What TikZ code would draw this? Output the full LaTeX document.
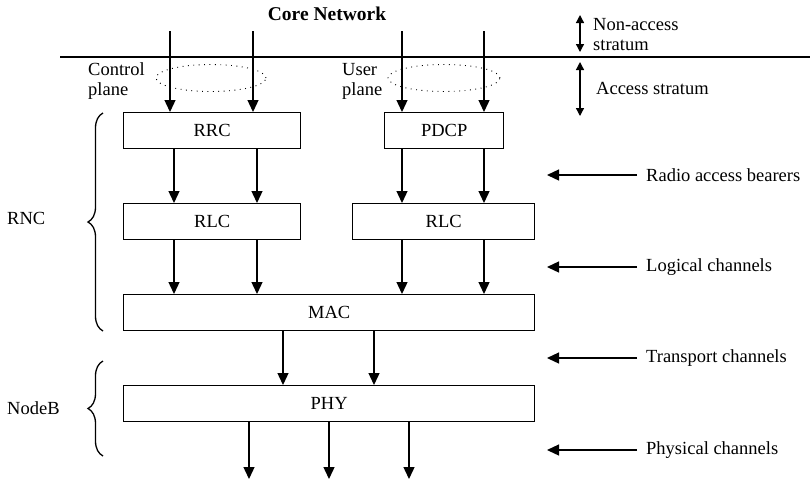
\documentclass[tikz,border=0pt]{standalone}
\usepackage{fontspec}
\setmainfont{Liberation Serif}
\usetikzlibrary{arrows.meta,decorations.pathreplacing,shapes.geometric}
\begin{document}
\begin{tikzpicture}[x=1pt,y=-1pt,
  every node/.style={font=\fontsize{18.5}{20}\selectfont, inner sep=0pt},
  layer/.style={draw, line width=1.3pt, minimum height=36pt, anchor=north west},
  flow/.style={line width=1.3pt, -{Triangle[width=11pt,length=12pt]}},
  both/.style={line width=1.3pt, {Triangle[width=8pt,length=8pt]}-{Triangle[width=8pt,length=8pt]}},
  side/.style={line width=1.3pt, -{Triangle[width=11pt,length=12pt]}},
  plane/.style={draw, line width=0.9pt, dash pattern=on 0.9pt off 4.5pt, ellipse},
  grp/.style={decorate, decoration={brace, amplitude=15pt}, line width=1.3pt}]
\useasboundingbox (0,0) rectangle (810,483);

% title and stratum boundary
\node[font=\fontsize{19.5}{21}\selectfont\bfseries] (core) at (327,14) {Core Network};
\coordinate (lineL) at (60,57);
\coordinate (lineR) at (810,57);
\draw[line width=1.3pt] (lineL) -- (lineR);

% protocol layers
\node[layer, minimum width=177pt] (rrc)  at (123,112) {};
\node at (rrc.center) {RRC};
\node[layer, minimum width=119pt] (pdcp) at (384,112) {};
\node at (pdcp.center) {PDCP};
\node[layer, minimum width=177pt] (rlcA) at (123,203) {};
\node at (rlcA.center) {RLC};
\node[layer, minimum width=182pt] (rlcB) at (352,203) {};
\node at (rlcB.center) {RLC};
\node[layer, minimum width=411pt] (mac)  at (123,294) {};
\node at (mac.center) {MAC};
\node[layer, minimum width=411pt] (phy)  at (123,385) {};
\node at (phy.center) {PHY};

% plane groupings
\node[plane, minimum width=110pt, minimum height=27pt] (cp) at (211,78) {};
\node[plane, minimum width=112pt, minimum height=27pt] (up) at (444,78) {};
\node[align=left, anchor=west] (cpl) at (88,81) {Control\\plane};
\node[align=left, anchor=west] (upl) at (342,81) {User\\plane};

% entry points from the core network
\coordinate (in1) at (170,31);
\coordinate (in2) at (253,31);
\coordinate (in3) at (402,31);
\coordinate (in4) at (484,31);
\draw[flow] (in1) -- (in1 |- rrc.north);
\draw[flow] (in2) -- (in2 |- rrc.north);
\draw[flow] (in3) -- (in3 |- pdcp.north);
\draw[flow] (in4) -- (in4 |- pdcp.north);

% RRC / PDCP to RLC
\coordinate (a1) at (174,0);
\coordinate (a2) at (257,0);
\draw[flow] (a1 |- rrc.south) -- (a1 |- rlcA.north);
\draw[flow] (a2 |- rrc.south) -- (a2 |- rlcA.north);
\draw[flow] (in3 |- pdcp.south) -- (in3 |- rlcB.north);
\draw[flow] (in4 |- pdcp.south) -- (in4 |- rlcB.north);

% RLC to MAC
\draw[flow] (a1 |- rlcA.south) -- (a1 |- mac.north);
\draw[flow] (a2 |- rlcA.south) -- (a2 |- mac.north);
\draw[flow] (in3 |- rlcB.south) -- (in3 |- mac.north);
\draw[flow] (in4 |- rlcB.south) -- (in4 |- mac.north);

% MAC to PHY
\coordinate (t1) at (283,0);
\coordinate (t2) at (374,0);
\draw[flow] (t1 |- mac.south) -- (t1 |- phy.north);
\draw[flow] (t2 |- mac.south) -- (t2 |- phy.north);

% physical channels out of PHY
\coordinate (p1) at (249,479);
\coordinate (p2) at (329,479);
\coordinate (p3) at (409,479);
\draw[flow] (p1 |- phy.south) -- (p1);
\draw[flow] (p2 |- phy.south) -- (p2);
\draw[flow] (p3 |- phy.south) -- (p3);

% stratum extents
\coordinate (na1) at (580,15);
\coordinate (na2) at (580,52);
\coordinate (as1) at (580,62);
\coordinate (as2) at (580,116);
\draw[both] (na1) -- (na2);
\draw[both] (as1) -- (as2);
\node[align=left, anchor=west] (nal) at (593,35) {Non-access\\stratum};
\node[anchor=west] (asl) at (596,88) {Access stratum};

% channel labels
\node[anchor=west] (rab) at (646,175) {Radio access bearers};
\node[anchor=west] (lch) at (646,267) {Logical channels};
\node[anchor=west] (tch) at (646,358) {Transport channels};
\node[anchor=west] (pch) at (646,450) {Physical channels};
\draw[side] ([xshift=-9pt]rab.west) -- ++(-90,0);
\draw[side] ([xshift=-9pt]lch.west) -- ++(-90,0);
\draw[side] ([xshift=-9pt]tch.west) -- ++(-90,0);
\draw[side] ([xshift=-9pt]pch.west) -- ++(-90,0);

% network element groupings
\coordinate (rncB) at (103,331);
\coordinate (rncT) at (103,113);
\coordinate (nbB) at (103,456);
\coordinate (nbT) at (103,361);
\draw[grp] (rncB) -- (rncT);
\draw[grp] (nbB) -- (nbT);
\node[anchor=west] (rnc) at (7,218) {RNC};
\node[anchor=west] (nodeb) at (7,408) {NodeB};
\end{tikzpicture}
\end{document}
